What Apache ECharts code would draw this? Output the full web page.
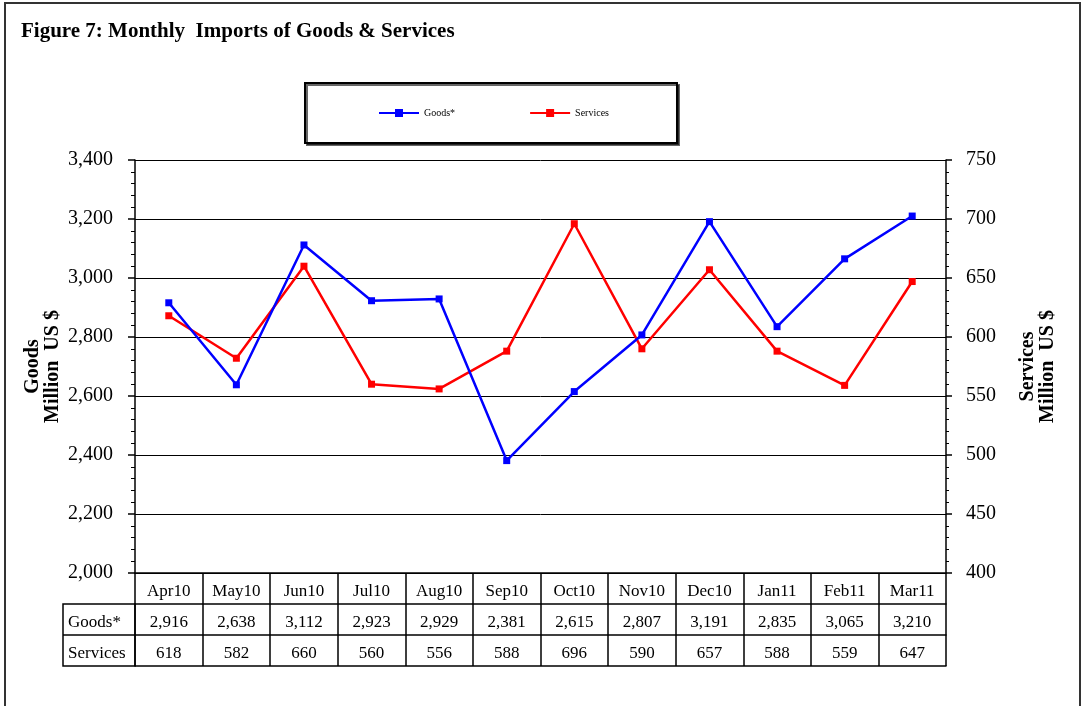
<!DOCTYPE html>
<html>
<head>
<meta charset="utf-8">
<script src="https://cdn.jsdelivr.net/npm/echarts@6/dist/echarts.min.js"></script>
<style>
  html, body { margin: 0; padding: 0; background: #fff; }
  #chart { width: 1083px; height: 706px; }
</style>
</head>
<body>
<div id="chart"></div>
<script>
const months = ["Apr10", "May10", "Jun10", "Jul10", "Aug10", "Sep10", "Oct10", "Nov10", "Dec10", "Jan11", "Feb11", "Mar11"];
const goods = [2916, 2638, 3112, 2923, 2929, 2381, 2615, 2807, 3191, 2835, 3065, 3210];
const services = [618, 582, 660, 560, 556, 588, 696, 590, 657, 588, 559, 647];

const FONT = "'Liberation Serif', 'Times New Roman', serif";
const GRID_LEFT = 135;
const GRID_RIGHT = 137;
const GRID_TOP = 160;
const GRID_BOTTOM = 133;
const ROW_H = 31;
const plotBottom = 706 - GRID_BOTTOM;

const fmt = (v) => Number(v).toLocaleString("en-US");

const chart = echarts.init(document.getElementById("chart"));

// one category axis per table row, stacked under the plot
function tableAxis(idx, labels) {
  return {
    type: "category",
    data: months,
    position: "bottom",
    offset: idx * ROW_H,
    boundaryGap: true,
    axisLine: { show: true, lineStyle: { color: "#000", width: 1.5 } },
    axisTick: {
      show: labels !== null,
      interval: 0,
      length: ROW_H,
      lineStyle: { color: "#000", width: 1.5 },
    },
    axisLabel: {
      show: labels !== null,
      interval: 0,
      margin: 10,
      color: "#000",
      fontFamily: FONT,
      fontSize: 17,
      formatter: (v, i) => (labels ? labels[i] : ""),
    },
    splitLine: { show: false },
  };
}

const option = {
  backgroundColor: "#fff",
  animation: false,
  title: {
    text: "Figure 7: Monthly  Imports of Goods & Services",
    left: 16,
    top: 16,
    textStyle: { fontFamily: FONT, fontSize: 21, fontWeight: "bold", color: "#000" },
  },
  legend: {
    left: 305,
    top: 83,
    padding: [25, 68, 25, 73],
    itemGap: 74,
    itemWidth: 40,
    itemHeight: 10,
    borderColor: "#000",
    borderWidth: 2,
    backgroundColor: "#fff",
    shadowColor: "rgba(0,0,0,0.6)",
    shadowOffsetX: 2,
    shadowOffsetY: 2,
    shadowBlur: 0,
    textStyle: { fontFamily: FONT, fontSize: 10, color: "#000" },
    data: ["Goods*", "Services"],
  },
  grid: { left: GRID_LEFT, right: GRID_RIGHT, top: GRID_TOP, bottom: GRID_BOTTOM, containLabel: false },
  xAxis: [
    tableAxis(0, months),
    tableAxis(1, goods.map(fmt)),
    tableAxis(2, services.map(String)),
    tableAxis(3, null),
  ],
  yAxis: [
    {
      type: "value",
      min: 2000,
      max: 3400,
      interval: 200,
      position: "left",
      name: "Goods\nMillion  US $",
      nameLocation: "middle",
      nameRotate: 90,
      nameGap: 72,
      nameMoveOverlap: false,
      nameTextStyle: { fontFamily: FONT, fontSize: 20, fontWeight: "bold", color: "#000", lineHeight: 20 },
      axisLine: { show: true, lineStyle: { color: "#000", width: 1.5 } },
      axisTick: { show: true, length: 7, lineStyle: { color: "#000", width: 1.5 } },
      minorTick: { show: true, splitNumber: 5, length: 4, lineStyle: { color: "#000" } },
      axisLabel: { color: "#000", fontFamily: FONT, fontSize: 20, margin: 22, formatter: fmt },
      splitLine: { show: true, lineStyle: { color: "#000", width: 1 } },
    },
    {
      type: "value",
      min: 400,
      max: 750,
      interval: 50,
      position: "right",
      name: "Services\nMillion  US $",
      nameLocation: "middle",
      nameRotate: 90,
      nameGap: 72,
      nameMoveOverlap: false,
      nameTextStyle: { fontFamily: FONT, fontSize: 20, fontWeight: "bold", color: "#000", lineHeight: 20 },
      axisLine: { show: true, lineStyle: { color: "#000", width: 1.5 } },
      axisTick: { show: true, length: 6, lineStyle: { color: "#000", width: 1.5 } },
      minorTick: { show: true, splitNumber: 5, length: 3, lineStyle: { color: "#000" } },
      axisLabel: { color: "#000", fontFamily: FONT, fontSize: 20, margin: 20 },
      splitLine: { show: false },
    },
  ],
  series: [
    {
      name: "Goods*",
      type: "line",
      xAxisIndex: 0,
      yAxisIndex: 0,
      data: goods,
      symbol: "rect",
      symbolSize: 7,
      lineStyle: { color: "#0000FF", width: 2.5 },
      itemStyle: { color: "#0000FF" },
      z: 3,
    },
    {
      name: "Services",
      type: "line",
      xAxisIndex: 0,
      yAxisIndex: 1,
      data: services,
      symbol: "rect",
      symbolSize: 7,
      lineStyle: { color: "#FF0000", width: 2.5 },
      itemStyle: { color: "#FF0000" },
      z: 2,
    },
  ],
  graphic: [
    {
      type: "rect",
      shape: { x: 5, y: 3, width: 1075, height: 740 },
      style: { fill: null, stroke: "#333", lineWidth: 2 },
      silent: true,
    },
    // row label column of the data table
    {
      type: "rect",
      shape: { x: 63, y: plotBottom + ROW_H, width: GRID_LEFT - 63, height: ROW_H * 2 },
      style: { fill: null, stroke: "#000", lineWidth: 1.5 },
      silent: true,
    },
    {
      type: "line",
      shape: { x1: 63, y1: plotBottom + ROW_H * 2, x2: GRID_LEFT, y2: plotBottom + ROW_H * 2 },
      style: { stroke: "#000", lineWidth: 1.5 },
      silent: true,
    },
    {
      type: "text",
      x: 68,
      y: plotBottom + ROW_H * 1.5 + 3,
      style: { text: "Goods*", font: "17px " + FONT, fill: "#000", verticalAlign: "middle" },
      silent: true,
    },
    {
      type: "text",
      x: 68,
      y: plotBottom + ROW_H * 2.5 + 3,
      style: { text: "Services", font: "17px " + FONT, fill: "#000", verticalAlign: "middle" },
      silent: true,
    },
  ],
};

chart.setOption(option);
</script>
</body>
</html>
